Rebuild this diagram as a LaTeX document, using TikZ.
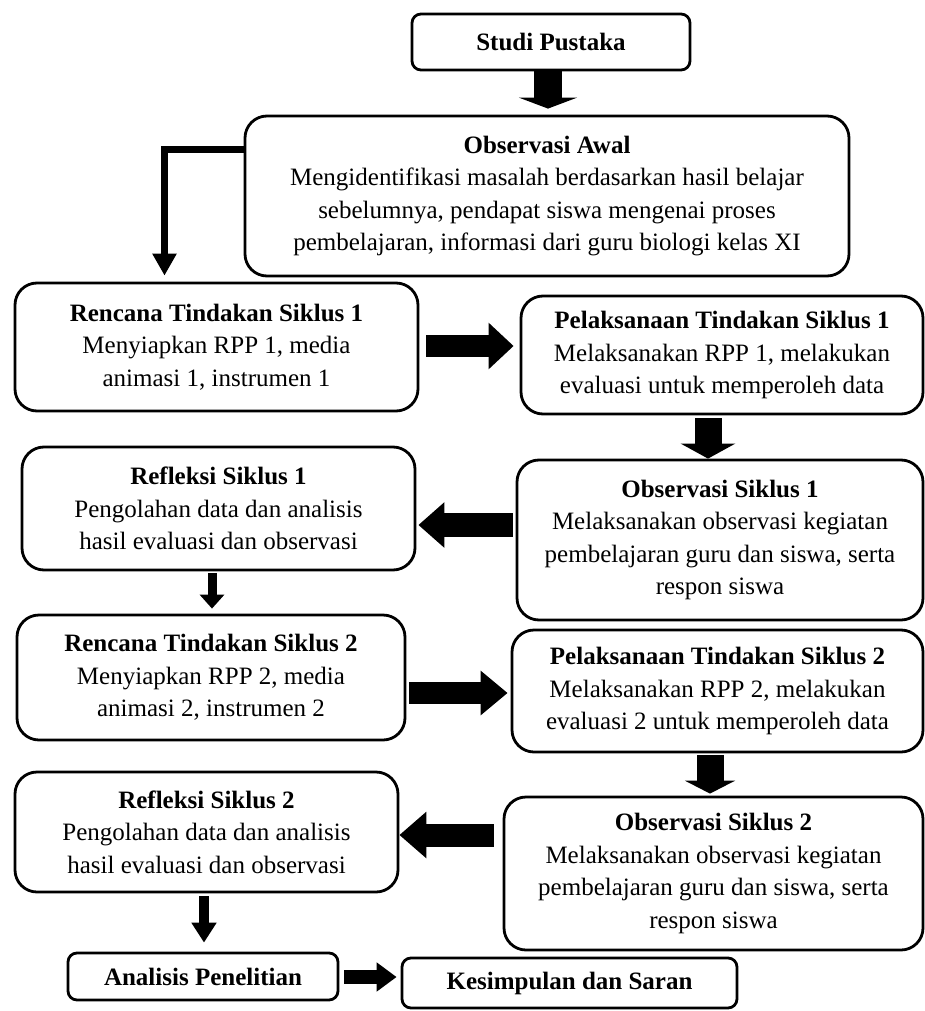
\documentclass[tikz,border=0pt]{standalone}
\usepackage{fontspec}
\setmainfont{Liberation Serif}
\usetikzlibrary{arrows.meta,calc}
\begin{document}
\begin{tikzpicture}[x=1pt,y=-1pt,
  box/.style={draw, line width=2.8pt, rounded corners=22pt, align=center, inner sep=0pt,
    font=\fontsize{25}{32.5}\selectfont},
  smallbox/.style={box, rounded corners=9pt},
  fatarrow/.style n args={3}{line width=#1pt, -{Triangle[width=#2pt,length=#3pt]}}
]
\useasboundingbox (0,0) rectangle (925,1011);

\node[smallbox, minimum width=278pt, minimum height=56pt] (studi) at (551,42) {\textbf{Studi Pustaka}};
\node[box, minimum width=604pt, minimum height=160pt] (obsawal) at (547,196)
  {\textbf{Observasi Awal}\\Mengidentifikasi masalah berdasarkan hasil belajar\\sebelumnya, pendapat siswa mengenai proses\\pembelajaran, informasi dari guru biologi kelas XI};
\node[box, minimum width=403pt, minimum height=128pt] (ren1) at (216.5,347)
  {\textbf{Rencana Tindakan Siklus 1}\\Menyiapkan RPP 1, media\\animasi 1, instrumen 1};
\node[box, minimum width=402pt, minimum height=118pt] (pel1) at (722,355)
  {\textbf{Pelaksanaan Tindakan Siklus 1}\\Melaksanakan RPP 1, melakukan\\evaluasi untuk memperoleh data};
\node[box, minimum width=406pt, minimum height=160pt] (obs1) at (720,540)
  {\textbf{Observasi Siklus 1}\\Melaksanakan observasi kegiatan\\pembelajaran guru dan siswa, serta\\respon siswa};
\node[box, minimum width=393pt, minimum height=123pt] (ref1) at (218.5,508.5)
  {\textbf{Refleksi Siklus 1}\\Pengolahan data dan analisis\\hasil evaluasi dan observasi};
\node[box, minimum width=388pt, minimum height=125pt] (ren2) at (211,677.5)
  {\textbf{Rencana Tindakan Siklus 2}\\Menyiapkan RPP 2, media\\animasi 2, instrumen 2};
\node[box, minimum width=411pt, minimum height=122pt] (pel2) at (717.5,691)
  {\textbf{Pelaksanaan Tindakan Siklus 2}\\Melaksanakan RPP 2, melakukan\\evaluasi 2 untuk memperoleh data};
\node[box, minimum width=419pt, minimum height=153pt] (obs2) at (713.5,873.5)
  {\textbf{Observasi Siklus 2}\\Melaksanakan observasi kegiatan\\pembelajaran guru dan siswa, serta\\respon siswa};
\node[box, minimum width=383pt, minimum height=120pt] (ref2) at (206.5,832)
  {\textbf{Refleksi Siklus 2}\\Pengolahan data dan analisis\\hasil evaluasi dan observasi};
\node[smallbox, minimum width=270pt, minimum height=47pt] (anal) at (203,976.5) {\textbf{Analisis Penelitian}};
\node[smallbox, minimum width=335pt, minimum height=50pt] (kes) at (569.5,983) {\textbf{Kesimpulan dan Saran}};

% connectors
\draw[fatarrow={28}{58}{11}] ($(studi.south)+(-3,0)$) -- ($(obsawal.north)+(1,-6)$);
\draw[line width=7pt, -{Triangle[width=23pt,length=22pt]}] ($(obsawal.west)+(0,-46)$) -| ($(ren1.north)+(-52,-6)$);
\draw[fatarrow={22}{45}{25}] ($(ren1.east)+(7,-1)$) -- ($(pel1.west)+(-6,-9)$);
\draw[fatarrow={27}{54}{15}] ($(pel1.south)+(-14,3)$) -- ($(obs1.north)+(-12,0)$);
\draw[fatarrow={24}{44}{26}] ($(obs1.west)+(-3,-15)$) -- ($(ref1.east)+(2,16.5)$);
\draw[fatarrow={9}{24}{14}] ($(ref1.south)+(-6.5,2)$) -- ($(ren2.north)+(1,-5)$);
\draw[fatarrow={22}{43}{27}] ($(ren2.east)+(3,15.5)$) -- ($(pel2.west)+(-3,2)$);
\draw[fatarrow={27}{50}{13}] ($(pel2.south)+(-7.5,2)$) -- ($(obs2.north)+(-3.5,-2)$);
\draw[fatarrow={23}{45}{27}] ($(obs2.west)+(-9,-38.5)$) -- ($(ref2.east)+(0,3)$);
\draw[fatarrow={10}{24}{20}] ($(ref2.south)+(-2.5,3)$) -- ($(anal.north)+(1,-9)$);
\draw[fatarrow={14}{28}{20}] ($(anal.east)+(5,0.5)$) -- ($(kes.west)+(-4,-6)$);
\end{tikzpicture}
\end{document}
